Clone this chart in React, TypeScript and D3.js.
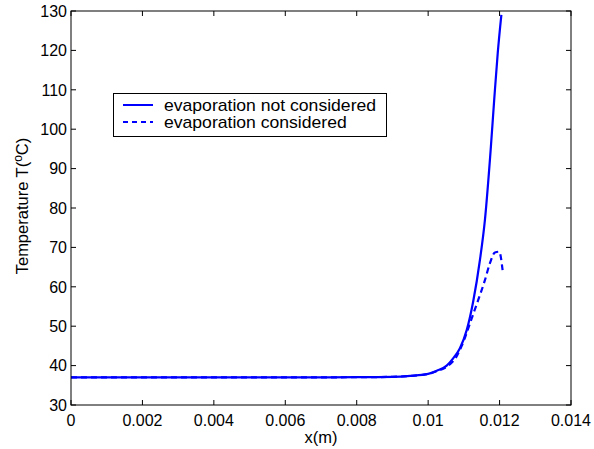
import React from "react";
import * as d3 from "d3";

const xTicks = [0, 0.002, 0.004, 0.006, 0.008, 0.01, 0.012, 0.014];
const yTicks = [30, 40, 50, 60, 70, 80, 90, 100, 110, 120, 130];

const solidX = [0, 0.002, 0.004, 0.006, 0.008, 0.009, 0.0095, 0.01, 0.01024, 0.01052, 0.0107, 0.01089, 0.01108, 0.01126, 0.01145, 0.01159, 0.01175, 0.01185, 0.01195, 0.01205];
const solidY = [37, 37, 37, 37, 37.05, 37.15, 37.4, 37.9, 38.7, 40.0, 41.85, 44.4, 49.0, 56.2, 66.8, 77.0, 94.7, 107.5, 119.5, 129.0];

const dashX = [0, 0.002, 0.004, 0.006, 0.008, 0.009, 0.0095, 0.01, 0.01024, 0.01052, 0.0108, 0.01094, 0.01122, 0.0114, 0.01159, 0.01173, 0.01187, 0.01199, 0.01209];
const dashY = [37, 37, 37, 37, 37.05, 37.15, 37.4, 37.9, 38.6, 39.7, 42.4, 45.0, 52.0, 56.6, 61.7, 66.0, 68.7, 68.9, 63.8];

const seriesNames = ["evaporation not considered", "evaporation considered"];

export default function App() {
  const W = 594, H = 449;
  const L = 71, R = 571, T = 11, B = 405;
  const x = d3.scaleLinear().domain([0, 0.014]).range([L, R]);
  const y = d3.scaleLinear().domain([30, 130]).range([B, T]);
  const line = d3.line<[number, number]>().x(d => x(d[0])).y(d => y(d[1])).curve(d3.curveMonotoneX);
  const solid = solidX.map((v, i) => [v, solidY[i]] as [number, number]);
  const dash = dashX.map((v, i) => [v, dashY[i]] as [number, number]);
  const font = "Liberation Sans, Arial, sans-serif";
  const tl = 5;
  return (
    <svg width={W} height={H} style={{ position: "absolute", left: 0, top: 0 }} fontFamily={font}>
      <rect x={0} y={0} width={W} height={H} fill="#fff" />
      <defs>
        <clipPath id="clip"><rect x={L} y={T - 2} width={R - L} height={B - T + 2} /></clipPath>
      </defs>
      <g clipPath="url(#clip)">
        <path d={line(solid) || ""} fill="none" stroke="#0000ff" strokeWidth={2.2} />
        <path d={line(dash) || ""} fill="none" stroke="#0000ff" strokeWidth={2.2} strokeDasharray="6,4" />
      </g>
      <rect x={L} y={T} width={R - L} height={B - T} fill="none" stroke="#000" strokeWidth={1} />
      {xTicks.map((t, i) => (
        <g key={"x" + i}>
          <line x1={x(t)} x2={x(t)} y1={B} y2={B - tl} stroke="#000" />
          <line x1={x(t)} x2={x(t)} y1={T} y2={T + tl} stroke="#000" />
          <text x={x(t)} y={425.5} textAnchor="middle" fontSize={16} fill="#000">{String(t)}</text>
        </g>
      ))}
      {yTicks.map((t, i) => (
        <g key={"y" + i}>
          <line x1={L} x2={L + tl} y1={y(t)} y2={y(t)} stroke="#000" />
          <line x1={R} x2={R - tl} y1={y(t)} y2={y(t)} stroke="#000" />
          <text x={L - 4} y={y(t)} dy="0.36em" textAnchor="end" fontSize={16} fill="#000">{t}</text>
        </g>
      ))}
      <text x={321} y={443} textAnchor="middle" fontSize={16.5} fill="#000">x(m)</text>
      <text transform={`translate(28,${(T + B) / 2 - 2}) rotate(-90)`} textAnchor="middle" fontSize={16.5} fill="#000">
        Temperature T(<tspan dy={-6} fontSize={12}>o</tspan><tspan dy={6}>C)</tspan>
      </text>
      <rect x={113.5} y={93.5} width={273} height={43} fill="#fff" stroke="#000" strokeWidth={1} />
      <line x1={123} x2={153} y1={105} y2={105} stroke="#0000ff" strokeWidth={2} />
      <line x1={123} x2={153} y1={122} y2={122} stroke="#0000ff" strokeWidth={2} strokeDasharray="5,4" />
      <text transform="translate(164,105) scale(1.1,1)" dy="0.36em" fontSize={16} fill="#000">{seriesNames[0]}</text>
      <text transform="translate(164,122) scale(1.1,1)" dy="0.36em" fontSize={16} fill="#000">{seriesNames[1]}</text>
    </svg>
  );
}
